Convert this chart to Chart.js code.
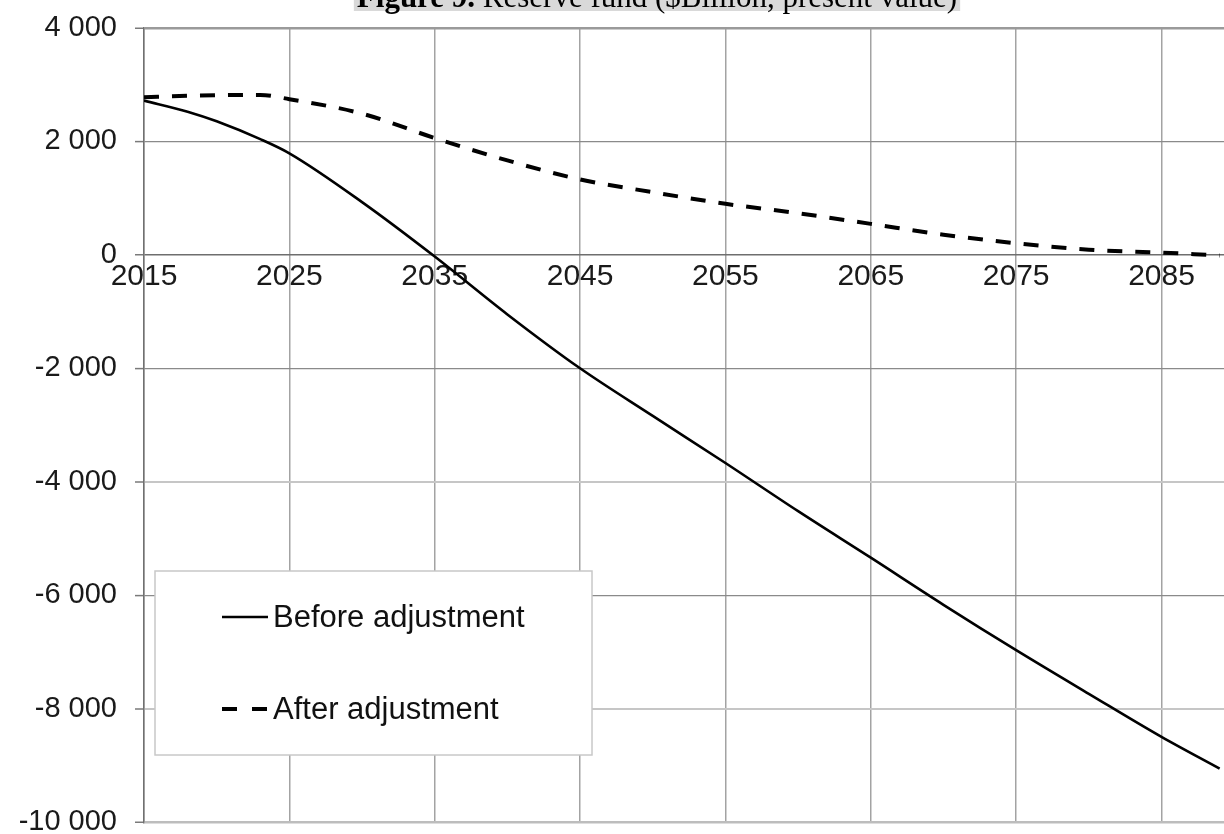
<!DOCTYPE html>
<html>
<head>
<meta charset="utf-8">
<script src="https://cdn.jsdelivr.net/npm/chart.js@4.4.0/dist/chart.umd.min.js"></script>
<style>
  html, body { margin: 0; padding: 0; background: #fff; }
  #wrap { width: 1224px; height: 834px; }
</style>
</head>
<body>
<div id="wrap"><canvas id="chart"></canvas></div>
<script>
// Reserve fund, $Billion present value
const YEARS  = [2015, 2018, 2020, 2023, 2025, 2030, 2035, 2040, 2045, 2050, 2055, 2060, 2065, 2070, 2075, 2080, 2085, 2089];
const BEFORE = [2720, 2525, 2355, 2040, 1790, 930, -30, -1050, -2000, -2840, -3670, -4520, -5340, -6170, -6970, -7740, -8500, -9060];
const AFTER  = [2780, 2805, 2815, 2820, 2745, 2490, 2060, 1665, 1330, 1105, 900, 735, 546, 355, 205, 90, 40, -10];

const X_TICKS = [2015, 2025, 2035, 2045, 2055, 2065, 2075, 2085];
const Y_TICKS = [4000, 2000, 0, -2000, -4000, -6000, -8000, -10000];

const TITLE_BOLD = 'Figure 9.';
const TITLE_REST = ' Reserve fund ($Billion, present value)';

const LABEL_FONT = "'Liberation Sans', Arial, sans-serif";
const SERIF = "'Liberation Serif', 'Times New Roman', serif";

function fmtThousands(v) {
    const s = Math.abs(v).toString().replace(/\B(?=(\d{3})+(?!\d))/g, ' ');
    return (v < 0 ? '-' : '') + s;
}

// ── Plugins ────────────────────────────────

// title strip, cut off by the top edge like the source
const titleStrip = {
    id: 'titleStrip',
    afterDraw(chart) {
        const ctx = chart.ctx;
        ctx.save();
        ctx.font = 'bold 31px ' + SERIF;
        const wb = ctx.measureText(TITLE_BOLD).width;
        ctx.font = '31px ' + SERIF;
        const wr = ctx.measureText(TITLE_REST).width;
        const x0 = 657 - (wb + wr) / 2;
        ctx.fillStyle = '#d9d9d9';
        ctx.fillRect(x0 - 3, 0, wb + wr + 6, 11);
        ctx.fillStyle = '#000';
        ctx.textBaseline = 'alphabetic';
        ctx.font = 'bold 31px ' + SERIF;
        ctx.fillText(TITLE_BOLD, x0, 7);
        ctx.font = '31px ' + SERIF;
        ctx.fillText(TITLE_REST, x0 + wb, 7);
        ctx.restore();
    }
};

// boxed legend sitting inside the plot
const insideLegend = {
    id: 'insideLegend',
    afterDatasetsDraw(chart) {
        const ctx = chart.ctx;
        ctx.save();
        ctx.fillStyle = '#fff';
        ctx.fillRect(155, 571, 437, 184);
        ctx.strokeStyle = '#c8c8c8';
        ctx.lineWidth = 1.5;
        ctx.strokeRect(155, 571, 437, 184);

        chart.data.datasets.forEach((ds, i) => {
            const yy = 617 + i * 92;
            ctx.beginPath();
            ctx.strokeStyle = ds.borderColor;
            ctx.lineWidth = ds.legendWidth;
            ctx.setLineDash(ds.legendDash);
            ctx.moveTo(222, yy);
            ctx.lineTo(268, yy);
            ctx.stroke();
            ctx.setLineDash([]);
            ctx.fillStyle = '#111';
            ctx.font = '31px ' + LABEL_FONT;
            ctx.textBaseline = 'middle';
            ctx.fillText(ds.label, 273, yy + 1);
        });
        ctx.restore();
    }
};

// ── Chart ──────────────────────────────────

const hGrid = { 4000: ['#9a9a9a', 2.5], 0: ['#6e6e6e', 1.5], 2000: ['#8a8a8a', 1.2], '-2000': ['#8a8a8a', 1.2],
                '-4000': ['#c6c6c6', 2], '-6000': ['#8a8a8a', 1.2], '-8000': ['#c6c6c6', 2], '-10000': ['#bdbdbd', 2.5] };

new Chart(document.getElementById('chart'), {
    type: 'line',
    data: {
        datasets: [
            {
                label: 'Before adjustment',
                data: YEARS.map((yr, i) => ({ x: yr, y: BEFORE[i] })),
                borderColor: '#000',
                borderWidth: 2.6,
                legendWidth: 2.6,
                legendDash: [],
                pointRadius: 0,
                cubicInterpolationMode: 'monotone',
            },
            {
                label: 'After adjustment',
                data: YEARS.map((yr, i) => ({ x: yr, y: AFTER[i] })),
                borderColor: '#000',
                borderWidth: 4,
                borderDash: [15, 13],
                legendWidth: 4,
                legendDash: [15, 15],
                pointRadius: 0,
                cubicInterpolationMode: 'monotone',
            },
        ]
    },
    options: {
        responsive: true,
        maintainAspectRatio: false,
        animation: false,
        layout: { padding: { top: 28, right: 0, bottom: 12, left: 0 } },
        plugins: { legend: { display: false }, tooltip: { enabled: false } },
        scales: {
            x: {
                type: 'linear',
                position: { y: 0 },
                min: 2015,
                max: 2089.3,
                afterBuildTicks: s => { s.ticks = X_TICKS.map(v => ({ value: v })); },
                afterFit: s => { s.paddingTop = 0; s.paddingBottom = 0; s.paddingRight = 0; },
                grid: { color: '#a3a3a3', lineWidth: 1.5, drawTicks: false },
                border: { display: false },
                ticks: { color: '#1a1a1a', font: { size: 30, family: LABEL_FONT }, padding: 4, maxRotation: 0, callback: v => String(v) }
            },
            y: {
                min: -10000,
                max: 4000,
                afterBuildTicks: s => { s.ticks = Y_TICKS.map(v => ({ value: v })); },
                afterFit: s => { s.width = 144; s.paddingTop = 0; s.paddingBottom = 0; },
                grid: {
                    color: c => (hGrid[c.tick ? c.tick.value : 0] || ['#8a8a8a'])[0],
                    lineWidth: c => (hGrid[c.tick ? c.tick.value : 0] || [0, 1.2])[1],
                    tickLength: 9,
                    tickColor: '#7a7a7a',
                    tickWidth: 1.5,
                },
                border: { color: '#707070', width: 1.5 },
                ticks: { color: '#1a1a1a', font: { size: 29, family: LABEL_FONT }, padding: 18, callback: v => fmtThousands(v) }
            }
        }
    },
    plugins: [insideLegend, titleStrip]
});
</script>
</body>
</html>
